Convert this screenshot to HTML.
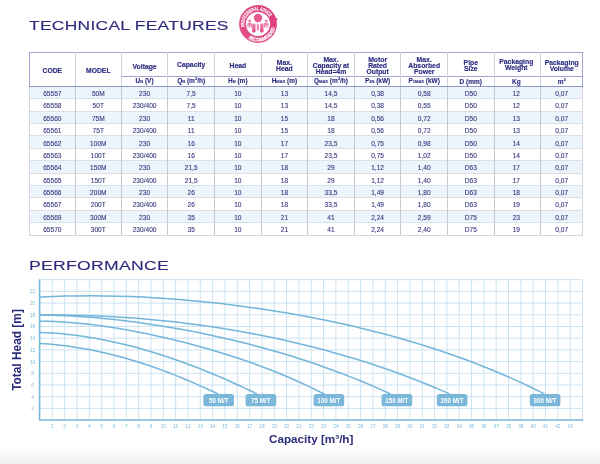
<!DOCTYPE html>
<html><head><meta charset="utf-8"><title>Technical Features</title>
<style>
html,body{margin:0;padding:0;background:#fff;}
body{width:600px;height:464px;position:relative;overflow:hidden;font-family:"Liberation Sans",Arial,sans-serif;color:#2e2c7c;}
.abs{position:absolute;}
.title{position:absolute;left:29.2px;white-space:nowrap;font-size:12.3px;line-height:12.3px;letter-spacing:0.2px;transform-origin:0 0;color:#2d2a7a;-webkit-text-stroke:0.12px #2d2a7a;}
.c{position:absolute;display:flex;align-items:center;justify-content:center;text-align:center;white-space:nowrap;}
.h{font-weight:bold;font-size:6.8px;line-height:6.4px;color:#2c2b80;-webkit-text-stroke:0.15px #2c2b80;}
.u{font-weight:bold;font-size:6.5px;line-height:7px;color:#2c2b80;-webkit-text-stroke:0.12px #2c2b80;}
.u small{font-size:4px;}
.u sup{font-size:4.2px;line-height:0;vertical-align:2.8px;}
.d{font-size:6.6px;line-height:7px;color:#34347e;-webkit-text-stroke:0.1px #34347e;}
.ln{position:absolute;}
</style></head><body>
<div id="wrap" style="position:absolute;left:0;top:0;width:600px;height:464px;will-change:transform;filter:blur(0.45px);">

<div class="abs" style="left:0;top:444px;width:600px;height:20px;background:linear-gradient(#fff,#f1f1f1);"></div>
<div class="title" style="top:20.1px;transform:scaleX(1.417);">TECHNICAL FEATURES</div>
<div class="title" style="top:260.4px;transform:scaleX(1.432);">PERFORMANCE</div>
<div class="abs" style="left:29.30px;top:86.40px;width:553.40px;height:12.38px;background:#edf5fc;"></div>
<div class="abs" style="left:29.30px;top:111.17px;width:553.40px;height:12.38px;background:#edf5fc;"></div>
<div class="abs" style="left:29.30px;top:135.94px;width:553.40px;height:12.38px;background:#edf5fc;"></div>
<div class="abs" style="left:29.30px;top:160.71px;width:553.40px;height:12.38px;background:#edf5fc;"></div>
<div class="abs" style="left:29.30px;top:185.48px;width:553.40px;height:12.38px;background:#edf5fc;"></div>
<div class="abs" style="left:29.30px;top:210.25px;width:553.40px;height:12.38px;background:#edf5fc;"></div>
<div class="ln" style="left:29.30px;top:98.29px;width:553.40px;height:1px;background:#dcdfe6;"></div>
<div class="ln" style="left:29.30px;top:110.67px;width:553.40px;height:1px;background:#dcdfe6;"></div>
<div class="ln" style="left:29.30px;top:123.06px;width:553.40px;height:1px;background:#dcdfe6;"></div>
<div class="ln" style="left:29.30px;top:135.44px;width:553.40px;height:1px;background:#dcdfe6;"></div>
<div class="ln" style="left:29.30px;top:147.82px;width:553.40px;height:1px;background:#dcdfe6;"></div>
<div class="ln" style="left:29.30px;top:160.21px;width:553.40px;height:1px;background:#dcdfe6;"></div>
<div class="ln" style="left:29.30px;top:172.59px;width:553.40px;height:1px;background:#dcdfe6;"></div>
<div class="ln" style="left:29.30px;top:184.98px;width:553.40px;height:1px;background:#dcdfe6;"></div>
<div class="ln" style="left:29.30px;top:197.37px;width:553.40px;height:1px;background:#dcdfe6;"></div>
<div class="ln" style="left:29.30px;top:209.75px;width:553.40px;height:1px;background:#dcdfe6;"></div>
<div class="ln" style="left:29.30px;top:222.13px;width:553.40px;height:1px;background:#dcdfe6;"></div>
<div class="ln" style="left:29.30px;top:234.52px;width:553.40px;height:1px;background:#d6d8de;"></div>
<div class="ln" style="left:28.80px;top:86.40px;width:1px;height:148.62px;background:#d4d5dc;"></div>
<div class="ln" style="left:74.80px;top:86.40px;width:1px;height:148.62px;background:#c6c8d0;"></div>
<div class="ln" style="left:120.80px;top:86.40px;width:1px;height:148.62px;background:#c6c8d0;"></div>
<div class="ln" style="left:167.40px;top:86.40px;width:1px;height:148.62px;background:#c6c8d0;"></div>
<div class="ln" style="left:214.00px;top:86.40px;width:1px;height:148.62px;background:#c6c8d0;"></div>
<div class="ln" style="left:260.60px;top:86.40px;width:1px;height:148.62px;background:#c6c8d0;"></div>
<div class="ln" style="left:307.20px;top:86.40px;width:1px;height:148.62px;background:#c6c8d0;"></div>
<div class="ln" style="left:353.80px;top:86.40px;width:1px;height:148.62px;background:#c6c8d0;"></div>
<div class="ln" style="left:400.40px;top:86.40px;width:1px;height:148.62px;background:#c6c8d0;"></div>
<div class="ln" style="left:447.00px;top:86.40px;width:1px;height:148.62px;background:#c6c8d0;"></div>
<div class="ln" style="left:493.60px;top:86.40px;width:1px;height:148.62px;background:#c6c8d0;"></div>
<div class="ln" style="left:540.20px;top:86.40px;width:1px;height:148.62px;background:#c6c8d0;"></div>
<div class="ln" style="left:582.20px;top:86.40px;width:1px;height:148.62px;background:#d4d5dc;"></div>
<div class="ln" style="left:28.80px;top:51.90px;width:554.40px;height:1px;background:#a3a4cf;"></div>
<div class="ln" style="left:28.80px;top:85.90px;width:554.40px;height:1px;background:#9495c7;"></div>
<div class="ln" style="left:121.30px;top:75.50px;width:461.40px;height:1px;background:#a3a4cf;"></div>
<div class="ln" style="left:28.80px;top:52.40px;width:1px;height:34.00px;background:#a3a4cf;"></div>
<div class="ln" style="left:74.80px;top:52.40px;width:1px;height:34.00px;background:#cfd0e0;"></div>
<div class="ln" style="left:120.80px;top:52.40px;width:1px;height:34.00px;background:#cfd0e0;"></div>
<div class="ln" style="left:167.40px;top:52.40px;width:1px;height:34.00px;background:#cfd0e0;"></div>
<div class="ln" style="left:214.00px;top:52.40px;width:1px;height:34.00px;background:#cfd0e0;"></div>
<div class="ln" style="left:260.60px;top:52.40px;width:1px;height:34.00px;background:#cfd0e0;"></div>
<div class="ln" style="left:307.20px;top:52.40px;width:1px;height:34.00px;background:#cfd0e0;"></div>
<div class="ln" style="left:353.80px;top:52.40px;width:1px;height:34.00px;background:#cfd0e0;"></div>
<div class="ln" style="left:400.40px;top:52.40px;width:1px;height:34.00px;background:#cfd0e0;"></div>
<div class="ln" style="left:447.00px;top:52.40px;width:1px;height:34.00px;background:#cfd0e0;"></div>
<div class="ln" style="left:493.60px;top:52.40px;width:1px;height:34.00px;background:#cfd0e0;"></div>
<div class="ln" style="left:540.20px;top:52.40px;width:1px;height:34.00px;background:#cfd0e0;"></div>
<div class="ln" style="left:582.20px;top:52.40px;width:1px;height:34.00px;background:#a3a4cf;"></div>
<div class="c h" style="left:29.30px;top:54.60px;width:46.00px;height:34.00px;">CODE</div>
<div class="c h" style="left:75.30px;top:54.60px;width:46.00px;height:34.00px;">MODEL</div>
<div class="c h" style="left:121.30px;top:55.20px;width:46.60px;height:23.60px;">Voltage</div>
<div class="c u" style="left:121.30px;top:76.00px;width:46.60px;height:10.40px;"><span>U<small>N</small> (V)</span></div>
<div class="c h" style="left:167.90px;top:53.90px;width:46.60px;height:23.60px;">Capacity</div>
<div class="c u" style="left:167.90px;top:76.00px;width:46.60px;height:10.40px;"><span>Q<small>N</small> (m<sup>3</sup>/h)</span></div>
<div class="c h" style="left:214.50px;top:54.40px;width:46.60px;height:23.60px;">Head</div>
<div class="c u" style="left:214.50px;top:76.00px;width:46.60px;height:10.40px;"><span>H<small>N</small> (m)</span></div>
<div class="c h" style="left:261.10px;top:54.40px;width:46.60px;height:23.60px;">Max.<br>Head</div>
<div class="c u" style="left:261.10px;top:76.00px;width:46.60px;height:10.40px;"><span>H<small>MAX</small> (m)</span></div>
<div class="c h" style="left:307.70px;top:54.40px;width:46.60px;height:23.60px;">Max.<br>Capacity at<br>Head=4m</div>
<div class="c u" style="left:307.70px;top:76.00px;width:46.60px;height:10.40px;"><span>Q<small>MAX</small> (m<sup>3</sup>/h)</span></div>
<div class="c h" style="left:354.30px;top:54.40px;width:46.60px;height:23.60px;">Motor<br>Rated<br>Output</div>
<div class="c u" style="left:354.30px;top:76.00px;width:46.60px;height:10.40px;"><span>P<small>2N</small> (kW)</span></div>
<div class="c h" style="left:400.90px;top:54.40px;width:46.60px;height:23.60px;">Max.<br>Absorbed<br>Power</div>
<div class="c u" style="left:400.90px;top:76.00px;width:46.60px;height:10.40px;"><span>P<small>1MAX</small> (kW)</span></div>
<div class="c h" style="left:447.50px;top:54.40px;width:46.60px;height:23.60px;">Pipe<br>Size</div>
<div class="c u" style="left:447.50px;top:76.00px;width:46.60px;height:10.40px;"><span>D (mm)</span></div>
<div class="c h" style="left:493.00px;top:53.20px;width:46.60px;height:23.60px;">Packaging<br>Weight</div>
<div class="c u" style="left:493.00px;top:76.00px;width:46.60px;height:10.40px;"><span>Kg</span></div>
<div class="c h" style="left:540.70px;top:54.40px;width:42.00px;height:23.60px;">Packaging<br>Volume</div>
<div class="c u" style="left:540.70px;top:76.00px;width:42.00px;height:10.40px;"><span>m<sup>3</sup></span></div>
<div class="c d" style="left:29.30px;top:87.30px;width:46.00px;height:12.38px;">65557</div>
<div class="c d" style="left:75.30px;top:87.30px;width:46.00px;height:12.38px;">50M</div>
<div class="c d" style="left:121.30px;top:87.30px;width:46.60px;height:12.38px;">230</div>
<div class="c d" style="left:167.90px;top:87.30px;width:46.60px;height:12.38px;">7,5</div>
<div class="c d" style="left:214.50px;top:87.30px;width:46.60px;height:12.38px;">10</div>
<div class="c d" style="left:261.10px;top:87.30px;width:46.60px;height:12.38px;">13</div>
<div class="c d" style="left:307.70px;top:87.30px;width:46.60px;height:12.38px;">14,5</div>
<div class="c d" style="left:354.30px;top:87.30px;width:46.60px;height:12.38px;">0,38</div>
<div class="c d" style="left:400.90px;top:87.30px;width:46.60px;height:12.38px;">0,58</div>
<div class="c d" style="left:447.50px;top:87.30px;width:46.60px;height:12.38px;">D50</div>
<div class="c d" style="left:493.00px;top:87.30px;width:46.60px;height:12.38px;">12</div>
<div class="c d" style="left:540.70px;top:87.30px;width:42.00px;height:12.38px;">0,07</div>
<div class="c d" style="left:29.30px;top:99.69px;width:46.00px;height:12.38px;">65558</div>
<div class="c d" style="left:75.30px;top:99.69px;width:46.00px;height:12.38px;">50T</div>
<div class="c d" style="left:121.30px;top:99.69px;width:46.60px;height:12.38px;">230/400</div>
<div class="c d" style="left:167.90px;top:99.69px;width:46.60px;height:12.38px;">7,5</div>
<div class="c d" style="left:214.50px;top:99.69px;width:46.60px;height:12.38px;">10</div>
<div class="c d" style="left:261.10px;top:99.69px;width:46.60px;height:12.38px;">13</div>
<div class="c d" style="left:307.70px;top:99.69px;width:46.60px;height:12.38px;">14,5</div>
<div class="c d" style="left:354.30px;top:99.69px;width:46.60px;height:12.38px;">0,38</div>
<div class="c d" style="left:400.90px;top:99.69px;width:46.60px;height:12.38px;">0,55</div>
<div class="c d" style="left:447.50px;top:99.69px;width:46.60px;height:12.38px;">D50</div>
<div class="c d" style="left:493.00px;top:99.69px;width:46.60px;height:12.38px;">12</div>
<div class="c d" style="left:540.70px;top:99.69px;width:42.00px;height:12.38px;">0,07</div>
<div class="c d" style="left:29.30px;top:112.07px;width:46.00px;height:12.38px;">65560</div>
<div class="c d" style="left:75.30px;top:112.07px;width:46.00px;height:12.38px;">75M</div>
<div class="c d" style="left:121.30px;top:112.07px;width:46.60px;height:12.38px;">230</div>
<div class="c d" style="left:167.90px;top:112.07px;width:46.60px;height:12.38px;">11</div>
<div class="c d" style="left:214.50px;top:112.07px;width:46.60px;height:12.38px;">10</div>
<div class="c d" style="left:261.10px;top:112.07px;width:46.60px;height:12.38px;">15</div>
<div class="c d" style="left:307.70px;top:112.07px;width:46.60px;height:12.38px;">18</div>
<div class="c d" style="left:354.30px;top:112.07px;width:46.60px;height:12.38px;">0,56</div>
<div class="c d" style="left:400.90px;top:112.07px;width:46.60px;height:12.38px;">0,72</div>
<div class="c d" style="left:447.50px;top:112.07px;width:46.60px;height:12.38px;">D50</div>
<div class="c d" style="left:493.00px;top:112.07px;width:46.60px;height:12.38px;">13</div>
<div class="c d" style="left:540.70px;top:112.07px;width:42.00px;height:12.38px;">0,07</div>
<div class="c d" style="left:29.30px;top:124.46px;width:46.00px;height:12.38px;">65561</div>
<div class="c d" style="left:75.30px;top:124.46px;width:46.00px;height:12.38px;">75T</div>
<div class="c d" style="left:121.30px;top:124.46px;width:46.60px;height:12.38px;">230/400</div>
<div class="c d" style="left:167.90px;top:124.46px;width:46.60px;height:12.38px;">11</div>
<div class="c d" style="left:214.50px;top:124.46px;width:46.60px;height:12.38px;">10</div>
<div class="c d" style="left:261.10px;top:124.46px;width:46.60px;height:12.38px;">15</div>
<div class="c d" style="left:307.70px;top:124.46px;width:46.60px;height:12.38px;">18</div>
<div class="c d" style="left:354.30px;top:124.46px;width:46.60px;height:12.38px;">0,56</div>
<div class="c d" style="left:400.90px;top:124.46px;width:46.60px;height:12.38px;">0,72</div>
<div class="c d" style="left:447.50px;top:124.46px;width:46.60px;height:12.38px;">D50</div>
<div class="c d" style="left:493.00px;top:124.46px;width:46.60px;height:12.38px;">13</div>
<div class="c d" style="left:540.70px;top:124.46px;width:42.00px;height:12.38px;">0,07</div>
<div class="c d" style="left:29.30px;top:136.84px;width:46.00px;height:12.38px;">65562</div>
<div class="c d" style="left:75.30px;top:136.84px;width:46.00px;height:12.38px;">100M</div>
<div class="c d" style="left:121.30px;top:136.84px;width:46.60px;height:12.38px;">230</div>
<div class="c d" style="left:167.90px;top:136.84px;width:46.60px;height:12.38px;">16</div>
<div class="c d" style="left:214.50px;top:136.84px;width:46.60px;height:12.38px;">10</div>
<div class="c d" style="left:261.10px;top:136.84px;width:46.60px;height:12.38px;">17</div>
<div class="c d" style="left:307.70px;top:136.84px;width:46.60px;height:12.38px;">23,5</div>
<div class="c d" style="left:354.30px;top:136.84px;width:46.60px;height:12.38px;">0,75</div>
<div class="c d" style="left:400.90px;top:136.84px;width:46.60px;height:12.38px;">0,98</div>
<div class="c d" style="left:447.50px;top:136.84px;width:46.60px;height:12.38px;">D50</div>
<div class="c d" style="left:493.00px;top:136.84px;width:46.60px;height:12.38px;">14</div>
<div class="c d" style="left:540.70px;top:136.84px;width:42.00px;height:12.38px;">0,07</div>
<div class="c d" style="left:29.30px;top:149.22px;width:46.00px;height:12.38px;">65563</div>
<div class="c d" style="left:75.30px;top:149.22px;width:46.00px;height:12.38px;">100T</div>
<div class="c d" style="left:121.30px;top:149.22px;width:46.60px;height:12.38px;">230/400</div>
<div class="c d" style="left:167.90px;top:149.22px;width:46.60px;height:12.38px;">16</div>
<div class="c d" style="left:214.50px;top:149.22px;width:46.60px;height:12.38px;">10</div>
<div class="c d" style="left:261.10px;top:149.22px;width:46.60px;height:12.38px;">17</div>
<div class="c d" style="left:307.70px;top:149.22px;width:46.60px;height:12.38px;">23,5</div>
<div class="c d" style="left:354.30px;top:149.22px;width:46.60px;height:12.38px;">0,75</div>
<div class="c d" style="left:400.90px;top:149.22px;width:46.60px;height:12.38px;">1,02</div>
<div class="c d" style="left:447.50px;top:149.22px;width:46.60px;height:12.38px;">D50</div>
<div class="c d" style="left:493.00px;top:149.22px;width:46.60px;height:12.38px;">14</div>
<div class="c d" style="left:540.70px;top:149.22px;width:42.00px;height:12.38px;">0,07</div>
<div class="c d" style="left:29.30px;top:161.61px;width:46.00px;height:12.38px;">65564</div>
<div class="c d" style="left:75.30px;top:161.61px;width:46.00px;height:12.38px;">150M</div>
<div class="c d" style="left:121.30px;top:161.61px;width:46.60px;height:12.38px;">230</div>
<div class="c d" style="left:167.90px;top:161.61px;width:46.60px;height:12.38px;">21,5</div>
<div class="c d" style="left:214.50px;top:161.61px;width:46.60px;height:12.38px;">10</div>
<div class="c d" style="left:261.10px;top:161.61px;width:46.60px;height:12.38px;">18</div>
<div class="c d" style="left:307.70px;top:161.61px;width:46.60px;height:12.38px;">29</div>
<div class="c d" style="left:354.30px;top:161.61px;width:46.60px;height:12.38px;">1,12</div>
<div class="c d" style="left:400.90px;top:161.61px;width:46.60px;height:12.38px;">1,40</div>
<div class="c d" style="left:447.50px;top:161.61px;width:46.60px;height:12.38px;">D63</div>
<div class="c d" style="left:493.00px;top:161.61px;width:46.60px;height:12.38px;">17</div>
<div class="c d" style="left:540.70px;top:161.61px;width:42.00px;height:12.38px;">0,07</div>
<div class="c d" style="left:29.30px;top:174.00px;width:46.00px;height:12.38px;">65565</div>
<div class="c d" style="left:75.30px;top:174.00px;width:46.00px;height:12.38px;">150T</div>
<div class="c d" style="left:121.30px;top:174.00px;width:46.60px;height:12.38px;">230/400</div>
<div class="c d" style="left:167.90px;top:174.00px;width:46.60px;height:12.38px;">21,5</div>
<div class="c d" style="left:214.50px;top:174.00px;width:46.60px;height:12.38px;">10</div>
<div class="c d" style="left:261.10px;top:174.00px;width:46.60px;height:12.38px;">18</div>
<div class="c d" style="left:307.70px;top:174.00px;width:46.60px;height:12.38px;">29</div>
<div class="c d" style="left:354.30px;top:174.00px;width:46.60px;height:12.38px;">1,12</div>
<div class="c d" style="left:400.90px;top:174.00px;width:46.60px;height:12.38px;">1,40</div>
<div class="c d" style="left:447.50px;top:174.00px;width:46.60px;height:12.38px;">D63</div>
<div class="c d" style="left:493.00px;top:174.00px;width:46.60px;height:12.38px;">17</div>
<div class="c d" style="left:540.70px;top:174.00px;width:42.00px;height:12.38px;">0,07</div>
<div class="c d" style="left:29.30px;top:186.38px;width:46.00px;height:12.38px;">65566</div>
<div class="c d" style="left:75.30px;top:186.38px;width:46.00px;height:12.38px;">200M</div>
<div class="c d" style="left:121.30px;top:186.38px;width:46.60px;height:12.38px;">230</div>
<div class="c d" style="left:167.90px;top:186.38px;width:46.60px;height:12.38px;">26</div>
<div class="c d" style="left:214.50px;top:186.38px;width:46.60px;height:12.38px;">10</div>
<div class="c d" style="left:261.10px;top:186.38px;width:46.60px;height:12.38px;">18</div>
<div class="c d" style="left:307.70px;top:186.38px;width:46.60px;height:12.38px;">33,5</div>
<div class="c d" style="left:354.30px;top:186.38px;width:46.60px;height:12.38px;">1,49</div>
<div class="c d" style="left:400.90px;top:186.38px;width:46.60px;height:12.38px;">1,80</div>
<div class="c d" style="left:447.50px;top:186.38px;width:46.60px;height:12.38px;">D63</div>
<div class="c d" style="left:493.00px;top:186.38px;width:46.60px;height:12.38px;">18</div>
<div class="c d" style="left:540.70px;top:186.38px;width:42.00px;height:12.38px;">0,07</div>
<div class="c d" style="left:29.30px;top:198.77px;width:46.00px;height:12.38px;">65567</div>
<div class="c d" style="left:75.30px;top:198.77px;width:46.00px;height:12.38px;">200T</div>
<div class="c d" style="left:121.30px;top:198.77px;width:46.60px;height:12.38px;">230/400</div>
<div class="c d" style="left:167.90px;top:198.77px;width:46.60px;height:12.38px;">26</div>
<div class="c d" style="left:214.50px;top:198.77px;width:46.60px;height:12.38px;">10</div>
<div class="c d" style="left:261.10px;top:198.77px;width:46.60px;height:12.38px;">18</div>
<div class="c d" style="left:307.70px;top:198.77px;width:46.60px;height:12.38px;">33,5</div>
<div class="c d" style="left:354.30px;top:198.77px;width:46.60px;height:12.38px;">1,49</div>
<div class="c d" style="left:400.90px;top:198.77px;width:46.60px;height:12.38px;">1,80</div>
<div class="c d" style="left:447.50px;top:198.77px;width:46.60px;height:12.38px;">D63</div>
<div class="c d" style="left:493.00px;top:198.77px;width:46.60px;height:12.38px;">19</div>
<div class="c d" style="left:540.70px;top:198.77px;width:42.00px;height:12.38px;">0,07</div>
<div class="c d" style="left:29.30px;top:211.15px;width:46.00px;height:12.38px;">65569</div>
<div class="c d" style="left:75.30px;top:211.15px;width:46.00px;height:12.38px;">300M</div>
<div class="c d" style="left:121.30px;top:211.15px;width:46.60px;height:12.38px;">230</div>
<div class="c d" style="left:167.90px;top:211.15px;width:46.60px;height:12.38px;">35</div>
<div class="c d" style="left:214.50px;top:211.15px;width:46.60px;height:12.38px;">10</div>
<div class="c d" style="left:261.10px;top:211.15px;width:46.60px;height:12.38px;">21</div>
<div class="c d" style="left:307.70px;top:211.15px;width:46.60px;height:12.38px;">41</div>
<div class="c d" style="left:354.30px;top:211.15px;width:46.60px;height:12.38px;">2,24</div>
<div class="c d" style="left:400.90px;top:211.15px;width:46.60px;height:12.38px;">2,59</div>
<div class="c d" style="left:447.50px;top:211.15px;width:46.60px;height:12.38px;">D75</div>
<div class="c d" style="left:493.00px;top:211.15px;width:46.60px;height:12.38px;">23</div>
<div class="c d" style="left:540.70px;top:211.15px;width:42.00px;height:12.38px;">0,07</div>
<div class="c d" style="left:29.30px;top:223.53px;width:46.00px;height:12.38px;">65570</div>
<div class="c d" style="left:75.30px;top:223.53px;width:46.00px;height:12.38px;">300T</div>
<div class="c d" style="left:121.30px;top:223.53px;width:46.60px;height:12.38px;">230/400</div>
<div class="c d" style="left:167.90px;top:223.53px;width:46.60px;height:12.38px;">35</div>
<div class="c d" style="left:214.50px;top:223.53px;width:46.60px;height:12.38px;">10</div>
<div class="c d" style="left:261.10px;top:223.53px;width:46.60px;height:12.38px;">21</div>
<div class="c d" style="left:307.70px;top:223.53px;width:46.60px;height:12.38px;">41</div>
<div class="c d" style="left:354.30px;top:223.53px;width:46.60px;height:12.38px;">2,24</div>
<div class="c d" style="left:400.90px;top:223.53px;width:46.60px;height:12.38px;">2,40</div>
<div class="c d" style="left:447.50px;top:223.53px;width:46.60px;height:12.38px;">D75</div>
<div class="c d" style="left:493.00px;top:223.53px;width:46.60px;height:12.38px;">19</div>
<div class="c d" style="left:540.70px;top:223.53px;width:42.00px;height:12.38px;">0,07</div>
<svg class="abs" style="left:237.9px;top:3.9px;" width="40" height="40" viewBox="-20 -20 40 40">
<defs><path id="arcT" d="M -13.20 2.81 A 13.5 13.5 0 0 1 11.32 -7.35"/><path id="arcB" d="M -9.53 14.68 A 17.5 17.5 0 0 0 16.98 4.23"/>
<linearGradient id="bg" x1="1" y1="0" x2="0" y2="1"><stop offset="0" stop-color="#da3976"/><stop offset="1" stop-color="#e4528a"/></linearGradient>
<linearGradient id="fg" x1="0" y1="0" x2="0" y2="1"><stop offset="0" stop-color="#ef86b0"/><stop offset="1" stop-color="#e0457f"/></linearGradient></defs>
<circle r="18.9" fill="url(#bg)"/>
<rect x="17.8" y="-6" width="1.5" height="2.4" rx=".7" fill="#dc3f7a"/>
<circle r="12.1" fill="#fff"/>
<g fill="#ec7ea9">
<circle cx="-8.3" cy="-3" r="1.5"/><circle cx="8.2" cy="-3" r="1.5"/>
<path d="M-10.6 0.2q0-1.1 1.1-1.1h2.4q1.1 0 1.1 1.1v3.4h-1.2v-2.6h-.6v2.6h-1.1v-2.6h-.6v2.6h-1.1z"/>
<path d="M10.5 0.2q0-1.1-1.1-1.1h-2.4q-1.1 0-1.1 1.1v3.4h1.2v-2.6h.6v2.6h1.1v-2.6h.6v2.6h1.1z"/>
</g>
<circle cx="0" cy="-6" r="4.2" fill="#e65a90"/>
<rect x="-5.8" y="-0.5" width="3.3" height="9" rx="1.2" fill="url(#fg)"/>
<rect x="2.2" y="-0.5" width="3.3" height="9" rx="1.2" fill="url(#fg)"/>
<rect x="-1.3" y="0" width="2.4" height="6.2" fill="#f4a6c4"/>
<rect x="-0.4" y="0.6" width="0.7" height="6" fill="#e65a90"/>
<g font-family="Liberation Sans, Arial, sans-serif" font-weight="bold" font-size="5.2" fill="#fff" stroke="#fff" stroke-width="0.18">
<text><textPath href="#arcT" textLength="37.5" lengthAdjust="spacingAndGlyphs">PROFESSIONAL ADVICE</textPath></text>
<text><textPath href="#arcB" textLength="33.3" lengthAdjust="spacingAndGlyphs">RECOMMENDED</textPath></text>
</g>
</svg>
<svg class="abs" style="left:0;top:0;" width="600" height="464" viewBox="0 0 600 464" font-family="Liberation Sans, Arial, sans-serif">
<path d="M52.33 280.00V420.10M64.66 280.00V420.10M76.99 280.00V420.10M89.32 280.00V420.10M101.65 280.00V420.10M113.98 280.00V420.10M126.31 280.00V420.10M138.64 280.00V420.10M150.97 280.00V420.10M163.30 280.00V420.10M175.63 280.00V420.10M187.96 280.00V420.10M200.29 280.00V420.10M212.62 280.00V420.10M224.95 280.00V420.10M237.28 280.00V420.10M249.61 280.00V420.10M261.94 280.00V420.10M274.27 280.00V420.10M286.60 280.00V420.10M298.93 280.00V420.10M311.26 280.00V420.10M323.59 280.00V420.10M335.92 280.00V420.10M348.25 280.00V420.10M360.58 280.00V420.10M372.91 280.00V420.10M385.24 280.00V420.10M397.57 280.00V420.10M409.90 280.00V420.10M422.23 280.00V420.10M434.56 280.00V420.10M446.89 280.00V420.10M459.22 280.00V420.10M471.55 280.00V420.10M483.88 280.00V420.10M496.21 280.00V420.10M508.54 280.00V420.10M520.87 280.00V420.10M533.20 280.00V420.10M545.53 280.00V420.10M557.86 280.00V420.10M570.19 280.00V420.10M582.52 280.00V420.10M40.00 408.40H582.52M40.00 396.70H582.52M40.00 385.00H582.52M40.00 373.30H582.52M40.00 361.60H582.52M40.00 349.90H582.52M40.00 338.20H582.52M40.00 326.50H582.52M40.00 314.80H582.52M40.00 303.10H582.52M40.00 291.40H582.52M40.00 279.70H582.52" stroke="#c6e0f0" stroke-width="0.9" fill="none"/>
<path d="M39.60 280.00V420.00H582.52" stroke="#7ab6da" stroke-width="1.6" fill="none" stroke-linecap="square"/>
<g font-size="4.7" fill="#7fbbdd" text-anchor="middle">
<text x="52.33" y="428.1">1</text>
<text x="64.66" y="428.1">2</text>
<text x="76.99" y="428.1">3</text>
<text x="89.32" y="428.1">4</text>
<text x="101.65" y="428.1">5</text>
<text x="113.98" y="428.1">6</text>
<text x="126.31" y="428.1">7</text>
<text x="138.64" y="428.1">8</text>
<text x="150.97" y="428.1">9</text>
<text x="163.30" y="428.1">10</text>
<text x="175.63" y="428.1">11</text>
<text x="187.96" y="428.1">12</text>
<text x="200.29" y="428.1">13</text>
<text x="212.62" y="428.1">14</text>
<text x="224.95" y="428.1">15</text>
<text x="237.28" y="428.1">16</text>
<text x="249.61" y="428.1">17</text>
<text x="261.94" y="428.1">18</text>
<text x="274.27" y="428.1">19</text>
<text x="286.60" y="428.1">20</text>
<text x="298.93" y="428.1">21</text>
<text x="311.26" y="428.1">22</text>
<text x="323.59" y="428.1">23</text>
<text x="335.92" y="428.1">24</text>
<text x="348.25" y="428.1">25</text>
<text x="360.58" y="428.1">26</text>
<text x="372.91" y="428.1">27</text>
<text x="385.24" y="428.1">28</text>
<text x="397.57" y="428.1">29</text>
<text x="409.90" y="428.1">30</text>
<text x="422.23" y="428.1">31</text>
<text x="434.56" y="428.1">32</text>
<text x="446.89" y="428.1">33</text>
<text x="459.22" y="428.1">34</text>
<text x="471.55" y="428.1">35</text>
<text x="483.88" y="428.1">36</text>
<text x="496.21" y="428.1">37</text>
<text x="508.54" y="428.1">38</text>
<text x="520.87" y="428.1">39</text>
<text x="533.20" y="428.1">40</text>
<text x="545.53" y="428.1">41</text>
<text x="557.86" y="428.1">42</text>
<text x="570.19" y="428.1">43</text>
<text x="32.6" y="410.30">2</text>
<text x="32.6" y="398.60">4</text>
<text x="32.6" y="386.90">6</text>
<text x="32.6" y="375.20">8</text>
<text x="32.6" y="363.50">10</text>
<text x="32.6" y="351.80">12</text>
<text x="32.6" y="340.10">14</text>
<text x="32.6" y="328.40">16</text>
<text x="32.6" y="316.70">18</text>
<text x="32.6" y="305.00">20</text>
<text x="32.6" y="293.30">22</text>
</g>
<path d="M40.0 297.1 L52.9 296.5 L65.9 296.1 L78.8 295.9 L91.7 295.8 L104.7 295.9 L117.6 296.2 L130.5 296.6 L143.5 297.1 L156.4 297.9 L169.3 298.7 L182.3 299.7 L195.2 300.9 L208.1 302.2 L221.1 303.6 L234.0 305.2 L246.9 306.9 L259.9 308.7 L272.8 310.7 L285.7 312.8 L298.7 315.0 L311.6 317.5 L324.5 320.0 L337.5 322.7 L350.4 325.6 L363.3 328.7 L376.3 331.9 L389.2 335.3 L402.1 338.9 L415.1 342.7 L428.0 346.7 L440.9 351.0 L453.9 355.4 L466.8 360.1 L479.7 365.0 L492.7 370.2 L505.6 375.7 L518.5 381.4 L531.5 387.5 L544.4 393.9" stroke="#74b5da" stroke-width="1.55" fill="none"/>
<path d="M40.0 315.2 L50.5 315.1 L61.0 315.1 L71.5 315.2 L82.0 315.4 L92.5 315.8 L103.0 316.2 L113.5 316.8 L124.0 317.4 L134.5 318.1 L145.0 319.0 L155.5 319.9 L166.0 321.0 L176.5 322.1 L187.0 323.4 L197.5 324.8 L208.0 326.2 L218.5 327.8 L229.0 329.5 L239.5 331.3 L250.0 333.2 L260.5 335.2 L271.0 337.3 L281.5 339.6 L292.0 342.0 L302.5 344.4 L313.0 347.1 L323.5 349.8 L334.0 352.7 L344.5 355.7 L355.0 358.8 L365.5 362.1 L376.0 365.5 L386.5 369.1 L397.0 372.8 L407.5 376.7 L418.0 380.8 L428.5 385.0 L439.0 389.4 L449.5 393.9" stroke="#74b5da" stroke-width="1.55" fill="none"/>
<path d="M40.0 314.9 L49.0 315.1 L58.0 315.4 L67.0 315.8 L76.0 316.3 L85.0 316.9 L94.0 317.6 L103.0 318.4 L112.0 319.3 L121.0 320.3 L130.0 321.4 L139.0 322.6 L148.0 323.9 L157.0 325.2 L166.0 326.7 L175.0 328.2 L184.0 329.8 L193.0 331.5 L202.0 333.3 L211.0 335.2 L220.0 337.2 L229.0 339.2 L238.0 341.4 L247.0 343.6 L256.0 346.0 L265.0 348.4 L274.0 351.0 L283.0 353.6 L292.0 356.3 L301.0 359.2 L310.0 362.1 L319.0 365.2 L328.0 368.4 L337.0 371.7 L346.0 375.1 L355.0 378.6 L364.0 382.3 L373.0 386.1 L382.0 390.1 L391.0 394.2" stroke="#74b5da" stroke-width="1.55" fill="none"/>
<path d="M40.0 321.2 L47.3 321.3 L54.6 321.5 L61.9 321.9 L69.2 322.4 L76.5 323.0 L83.8 323.7 L91.0 324.5 L98.3 325.5 L105.6 326.5 L112.9 327.6 L120.2 328.8 L127.5 330.0 L134.8 331.4 L142.1 332.8 L149.4 334.3 L156.7 335.9 L164.0 337.5 L171.3 339.2 L178.6 341.0 L185.8 342.8 L193.1 344.8 L200.4 346.8 L207.7 348.8 L215.0 351.0 L222.3 353.2 L229.6 355.4 L236.9 357.8 L244.2 360.3 L251.5 362.8 L258.8 365.4 L266.1 368.2 L273.4 371.0 L280.6 374.0 L287.9 377.0 L295.2 380.2 L302.5 383.5 L309.8 386.9 L317.1 390.5 L324.4 394.2" stroke="#74b5da" stroke-width="1.55" fill="none"/>
<path d="M40.0 332.5 L45.6 332.7 L51.1 333.0 L56.7 333.3 L62.3 333.8 L67.8 334.4 L73.4 335.0 L78.9 335.7 L84.5 336.5 L90.1 337.4 L95.6 338.3 L101.2 339.4 L106.8 340.5 L112.3 341.7 L117.9 342.9 L123.5 344.2 L129.0 345.6 L134.6 347.1 L140.2 348.6 L145.7 350.2 L151.3 351.8 L156.8 353.5 L162.4 355.3 L168.0 357.1 L173.5 359.0 L179.1 360.9 L184.7 363.0 L190.2 365.0 L195.8 367.1 L201.4 369.3 L206.9 371.5 L212.5 373.8 L218.1 376.1 L223.6 378.5 L229.2 381.0 L234.7 383.5 L240.3 386.0 L245.9 388.6 L251.4 391.3 L257.0 394.0" stroke="#74b5da" stroke-width="1.55" fill="none"/>
<path d="M40.0 343.4 L44.6 343.7 L49.1 344.1 L53.7 344.5 L58.3 345.0 L62.8 345.5 L67.4 346.1 L71.9 346.7 L76.5 347.4 L81.1 348.2 L85.6 349.0 L90.2 349.8 L94.8 350.7 L99.3 351.7 L103.9 352.7 L108.5 353.7 L113.0 354.9 L117.6 356.0 L122.2 357.3 L126.7 358.5 L131.3 359.9 L135.8 361.2 L140.4 362.7 L145.0 364.2 L149.5 365.7 L154.1 367.3 L158.7 368.9 L163.2 370.6 L167.8 372.3 L172.4 374.1 L176.9 375.9 L181.5 377.8 L186.1 379.7 L190.6 381.6 L195.2 383.6 L199.7 385.6 L204.3 387.6 L208.9 389.7 L213.4 391.8 L218.0 394.0" stroke="#74b5da" stroke-width="1.55" fill="none"/>
<rect x="203.4" y="394" width="30.6" height="12.3" rx="2.6" fill="#7ab7d9"/>
<text x="218.7" y="403.2" font-size="6.3" font-weight="bold" fill="#fff" text-anchor="middle">50 M/T</text>
<rect x="245.6" y="394" width="30.6" height="12.3" rx="2.6" fill="#7ab7d9"/>
<text x="260.9" y="403.2" font-size="6.3" font-weight="bold" fill="#fff" text-anchor="middle">75 M/T</text>
<rect x="313.6" y="394" width="30.6" height="12.3" rx="2.6" fill="#7ab7d9"/>
<text x="328.9" y="403.2" font-size="6.3" font-weight="bold" fill="#fff" text-anchor="middle">100 M/T</text>
<rect x="381.6" y="394" width="30.6" height="12.3" rx="2.6" fill="#7ab7d9"/>
<text x="396.9" y="403.2" font-size="6.3" font-weight="bold" fill="#fff" text-anchor="middle">150 M/T</text>
<rect x="436.8" y="394" width="30.6" height="12.3" rx="2.6" fill="#7ab7d9"/>
<text x="452.1" y="403.2" font-size="6.3" font-weight="bold" fill="#fff" text-anchor="middle">200 M/T</text>
<rect x="529.8" y="394" width="30.6" height="12.3" rx="2.6" fill="#7ab7d9"/>
<text x="545.1" y="403.2" font-size="6.3" font-weight="bold" fill="#fff" text-anchor="middle">300 M/T</text>
<text x="311.2" y="442.7" font-size="11.7" font-weight="bold" fill="#2b2b7d" text-anchor="middle">Capacity [m³/h]</text>
<text transform="translate(21.3 350) rotate(-90)" font-size="11.9" font-weight="bold" fill="#2b2b7d" text-anchor="middle">Total Head [m]</text>
</svg>
</div>
</body></html>
